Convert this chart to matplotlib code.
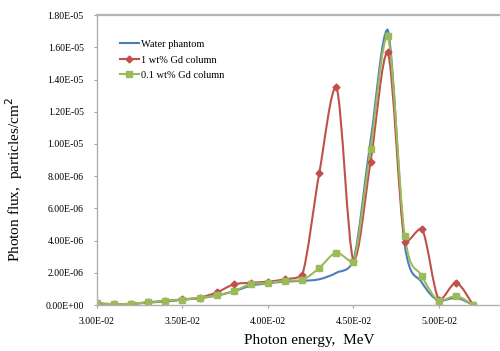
import matplotlib
matplotlib.use("Agg")
import matplotlib.pyplot as plt
from matplotlib.path import Path
from matplotlib.patches import PathPatch
from matplotlib.lines import Line2D
from matplotlib.ticker import FuncFormatter

energy = [0.030, 0.031, 0.032, 0.033, 0.034, 0.035, 0.036, 0.037, 0.038, 0.039, 0.040,
          0.041, 0.042, 0.043, 0.044, 0.045, 0.046, 0.047, 0.048, 0.049, 0.050, 0.051, 0.052]

water = [1.0e-7, 5e-8, 7e-8, 1.5e-7, 2.2e-7, 3.2e-7, 4.3e-7, 5.8e-7, 8.5e-7, 1.2e-6, 1.35e-6,
         1.45e-6, 1.5e-6, 1.6e-6, 2.0e-6, 2.75e-6, 1.02e-5, 1.71e-5, 3.7e-6, 1.4e-6, 2.5e-7, 4.5e-7, 0.0]
gd1 = [1.0e-7, 5e-8, 8e-8, 1.7e-7, 2.6e-7, 3.5e-7, 4.6e-7, 7.8e-7, 1.28e-6, 1.38e-6, 1.45e-6,
       1.6e-6, 1.85e-6, 8.2e-6, 1.355e-5, 2.75e-6, 8.9e-6, 1.57e-5, 3.9e-6, 4.75e-6, 3e-7, 1.37e-6, 0.0]
gd01 = [1.0e-7, 5e-8, 8e-8, 1.7e-7, 2.5e-7, 3.4e-7, 4.5e-7, 6.0e-7, 8.7e-7, 1.3e-6, 1.37e-6,
        1.5e-6, 1.55e-6, 2.3e-6, 3.25e-6, 2.67e-6, 9.7e-6, 1.67e-5, 4.28e-6, 1.8e-6, 2.5e-7, 5.6e-7, 0.0]

labels = ["Water phantom", "1 wt% Gd column", "0.1 wt% Gd column"]
colors = ["#4a7ebb", "#c0504d", "#9bbb59"]
markers = [None, "D", "s"]
msizes = [0, 3.5, 4.5]

plt.rcParams["font.family"] = ["Liberation Serif", "DejaVu Serif"]


def smooth_path(x, y):
    # excel-like smoothed line: bezier through the points, control points kept
    # inside each segment's y range so the curve does not overshoot
    n = len(x)
    verts = [(x[0], y[0])]
    codes = [Path.MOVETO]
    for i in range(n - 1):
        x0, y0 = (x[i - 1], y[i - 1]) if i > 0 else (x[i], y[i])
        x3, y3 = (x[i + 2], y[i + 2]) if i + 2 < n else (x[i + 1], y[i + 1])
        lo, hi = min(y[i], y[i + 1]), max(y[i], y[i + 1])
        c1y = min(max(y[i] + (y[i + 1] - y0) / 6, lo), hi)
        c2y = min(max(y[i + 1] - (y3 - y[i]) / 6, lo), hi)
        c1 = (x[i] + (x[i + 1] - x0) / 6, c1y)
        c2 = (x[i + 1] - (x3 - x[i]) / 6, c2y)
        verts += [c1, c2, (x[i + 1], y[i + 1])]
        codes += [Path.CURVE4] * 3
    return Path(verts, codes)


fig = plt.figure(figsize=(5.0, 3.51), dpi=100)
ax = fig.add_axes([0.194, 0.131, 0.806, 0.826])

handles = []
for ys, c, m, ms, lab in zip([water, gd1, gd01], colors, markers, msizes, labels):
    ax.add_patch(PathPatch(smooth_path(energy, ys), facecolor="none", edgecolor=c,
                           lw=1.5, capstyle="round", joinstyle="round"))
    if m:
        ax.plot(energy, ys, ls="none", marker=m, ms=ms, color=c)
    handles.append(Line2D([], [], color=c, lw=1.5, marker=m, ms=ms))

ax.set_xlim(0.030, 0.05357)
ax.set_ylim(0, 1.8e-5)
ax.set_xticks([0.030, 0.035, 0.040, 0.045, 0.050])
ax.set_yticks([i * 2e-6 for i in range(10)])
fmt = FuncFormatter(lambda v, p: "{:.2E}".format(v))
ax.xaxis.set_major_formatter(fmt)
ax.yaxis.set_major_formatter(fmt)
ax.tick_params(labelsize=7, length=2.5, color="#a0a0a0")
ax.tick_params(axis="y", pad=7)
ax.tick_params(axis="x", pad=6)

ax.spines["right"].set_visible(False)
for s in ["left", "bottom"]:
    ax.spines[s].set_color("#b0b0b0")
    ax.spines[s].set_linewidth(1.0)
ax.spines["top"].set_color("#b4b4b4")
ax.spines["top"].set_linewidth(1.6)

ax.set_ylabel("Photon flux,  particles/cm$^2$", fontsize=11)
ax.yaxis.set_label_coords(-0.179, 0.434)
ax.set_xlabel("Photon energy,  MeV", fontsize=11)
ax.xaxis.set_label_coords(0.526, -0.10)

ax.legend(handles, labels, loc="upper left", bbox_to_anchor=(0.057, 0.915), frameon=False,
          fontsize=7.5, handlelength=1.8, handletextpad=0.2, labelspacing=0.6,
          borderpad=0, borderaxespad=0)

plt.savefig("out.png", dpi=100)
